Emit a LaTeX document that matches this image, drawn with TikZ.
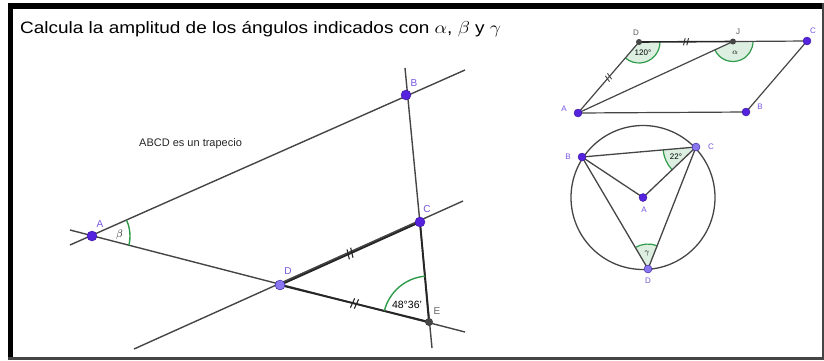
\documentclass[tikz,border=0pt]{standalone}
\usepackage{fontspec}
\setmainfont{Liberation Sans}
\usetikzlibrary{angles,decorations.markings}
\definecolor{ptc}{HTML}{5522DD}
\definecolor{ptl}{HTML}{8877EE}
\definecolor{lbl}{HTML}{7755DD}
\definecolor{lnc}{HTML}{454545}
\definecolor{angc}{HTML}{2E9B4A}
\definecolor{angf}{HTML}{DCEFE0}
\tikzset{
  gline/.style={draw=lnc, line width=1.4pt},
  bseg/.style={draw=black!85, line width=1.9pt},
  dotp/.style={circle, fill=ptc, draw=ptc!70!black, line width=0.4pt, inner sep=0pt, minimum size=#1},
  dotp/.default=10pt,
  dotl/.style={circle, fill=ptl, draw=ptc!70!black, line width=0.4pt, inner sep=0pt, minimum size=#1},
  dotl/.default=10pt,
  dotg/.style={circle, fill=lnc, inner sep=0pt, minimum size=#1},
  dotg/.default=8pt,
  plbl/.style={text=lbl, font=\fontsize{10}{11}\selectfont, inner sep=0pt},
  glbl/.style={text=gray!80!black, font=\fontsize{10}{11}\selectfont, inner sep=0pt},
  slbl/.style={text=lbl, font=\fontsize{8}{9}\selectfont, inner sep=0pt},
  sglbl/.style={text=gray!70!black, font=\fontsize{8}{9}\selectfont, inner sep=0pt},
  anglbl/.style={font=\fontsize{10.5}{11}\selectfont, inner sep=0pt},
  sanglbl/.style={font=\fontsize{8}{9}\selectfont, inner sep=0pt},
  angarc/.style={draw=angc, line width=1.4pt},
  angsec/.style={draw=angc, fill=angf, line width=1.2pt},
  dtick/.style={postaction={decorate, decoration={markings, mark=at position 0.5 with {
     \draw[line width=1.1pt] (-3pt,-5pt) -- (-1pt,5pt);
     \draw[line width=1.1pt] (1pt,-5pt) -- (3pt,5pt);}}}},
  sdtick/.style={postaction={decorate, decoration={markings, mark=at position 0.5 with {
     \draw[line width=0.9pt] (-2.5pt,-3.5pt) -- (-0.8pt,3.5pt);
     \draw[line width=0.9pt] (0.8pt,-3.5pt) -- (2.5pt,3.5pt);}}}}
}
\begin{document}
\begin{tikzpicture}[x=1pt,y=-1pt]
\useasboundingbox (0,0) rectangle (824,360);
% frame
\fill[black] (8,3) rectangle (13,360);
\fill[black] (8,3) rectangle (824,9);
\fill[lnc] (821.5,3) rectangle (824,360);
\fill[lnc] (8,357) rectangle (824,360);
% title
\node[anchor=base west, inner sep=0pt, font=\fontsize{16.5}{18}\selectfont] (title) at (20,33)
  {\scalebox{1.15}[1]{Calcula la amplitud de los ángulos indicados con $\alpha$, $\beta$ y $\gamma$}};
\node[anchor=base west, inner sep=0pt, font=\fontsize{11}{12}\selectfont, text=black!85] (trap) at (139,146) {ABCD es un trapecio};

% ---------- main figure ----------
\coordinate (A) at (92,236);
\coordinate (B) at (406,95);
\coordinate (C) at (420,222);
\coordinate (D) at (280,285);
\coordinate (E) at (429,322);
\coordinate (ABs) at (70,245);
\coordinate (ABe) at (465,70);
\coordinate (AEs) at (70,230);
\coordinate (AEe) at (465,332);
\coordinate (BEs) at (405,68);
\coordinate (BEe) at (432,348);
\coordinate (DCs) at (134,349);
\coordinate (DCe) at (463,201);

\draw[gline] (ABs) -- (ABe);
\draw[gline] (AEs) -- (AEe);
\draw[gline] (BEs) -- (BEe);
\draw[gline] (DCs) -- (DCe);
\draw[bseg, dtick] (D) -- (C);
\draw[bseg, dtick] (D) -- (E);
\draw[bseg] (C) -- (E);

\pic[angarc, angle radius=38pt] {angle = E--A--B};
\pic[angarc, angle radius=46pt] {angle = C--E--D};
\node[anchor=center, anglbl] (lbeta) at (119.5,235) {$\beta$};
\node[anchor=center, anglbl] (l48) at (407,305) {48°36'};

\node[dotp] (nA) at (A) {};
\node[dotp] (nB) at (B) {};
\node[dotp] (nC) at (C) {};
\node[dotl] (nD) at (D) {};
\node[dotg] (nE) at (E) {};
\node[plbl] (tA) at (100,224) {A};
\node[plbl] (tB) at (414,83) {B};
\node[plbl] (tC) at (427,209) {C};
\node[plbl] (tD) at (288,271) {D};
\node[glbl] (tE) at (437,311) {E};

% ---------- parallelogram ----------
\coordinate (pA) at (578,113);
\coordinate (pB) at (746,112);
\coordinate (pC) at (807,41);
\coordinate (pD) at (639,42);
\coordinate (pJ) at (733,41.5);
\pic[angsec, angle radius=21pt] {angle = pA--pD--pJ};
\pic[angsec, angle radius=20pt] {angle = pA--pJ--pC};
\draw[gline, line width=1.2pt, sdtick] (pA) -- (pD);
\draw[gline, line width=1.2pt] (pJ) -- (pC) -- (pB) -- (pA) -- (pJ);
\draw[bseg, line width=1.6pt, sdtick] (pD) -- (pJ);
\node[anchor=center, sanglbl] (l120) at (643,52.5) {120°};
\node[anchor=center, sanglbl] (lalpha) at (735,53) {$\alpha$};
\node[dotp=8pt] (npA) at (pA) {};
\node[dotp=8pt] (npB) at (pB) {};
\node[dotp=8pt] (npC) at (pC) {};
\node[dotg=6pt] (npD) at (pD) {};
\node[dotg=6pt] (npJ) at (pJ) {};
\node[slbl] (tpA) at (564,109) {A};
\node[slbl] (tpB) at (760,107) {B};
\node[slbl] (tpC) at (813,31) {C};
\node[sglbl] (tpD) at (636,33) {D};
\node[sglbl] (tpJ) at (738,32) {J};

% ---------- circle ----------
\coordinate (cA) at (643,197.5);
\coordinate (cB) at (582,157);
\coordinate (cC) at (696,147);
\coordinate (cD) at (648,269);
\draw[gline, line width=1.3pt] (cA) circle[radius=72pt];
\pic[angsec, angle radius=33pt] {angle = cB--cC--cA};
\pic[angsec, angle radius=25pt] {angle = cC--cD--cB};
\draw[gline, line width=1.3pt] (cB) -- (cC);
\draw[gline, line width=1.3pt] (cB) -- (cA) -- (cC);
\draw[gline, line width=1.3pt] (cB) -- (cD) -- (cC);
\node[anchor=center, sanglbl] (l22) at (676,157) {22°};
\node[anchor=center, sanglbl] (lgamma) at (647,254) {$\gamma$};
\node[dotp=8pt] (ncA) at (cA) {};
\node[dotp=8pt] (ncB) at (cB) {};
\node[dotl=8pt] (ncC) at (cC) {};
\node[dotl=8pt] (ncD) at (cD) {};
\node[slbl] (tcA) at (644,210) {A};
\node[slbl] (tcB) at (568,157) {B};
\node[slbl] (tcC) at (711,147) {C};
\node[slbl] (tcD) at (648,281) {D};
\end{tikzpicture}
\end{document}
